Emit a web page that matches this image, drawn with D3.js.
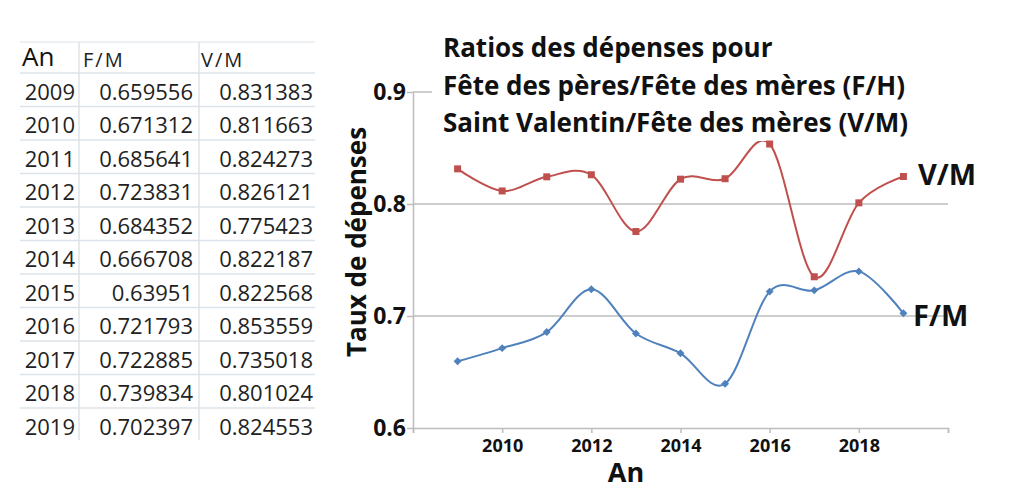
<!DOCTYPE html>
<html><head><meta charset="utf-8">
<script src="https://cdn.jsdelivr.net/npm/d3@7/dist/d3.min.js"></script>
<style>
body{margin:0;background:#fff;}
svg{display:block;}
</style></head>
<body>
<svg id="c" width="1024" height="500"></svg>
<script>
const years = [2009,2010,2011,2012,2013,2014,2015,2016,2017,2018,2019];
const fm = [0.659556,0.671312,0.685641,0.723831,0.684352,0.666708,0.63951,0.721793,0.722885,0.739834,0.702397];
const vm = [0.831383,0.811663,0.824273,0.826121,0.775423,0.822187,0.822568,0.853559,0.735018,0.801024,0.824553];
const fmText = ["0.659556","0.671312","0.685641","0.723831","0.684352","0.666708","0.63951","0.721793","0.722885","0.739834","0.702397"];
const vmText = ["0.831383","0.811663","0.824273","0.826121","0.775423","0.822187","0.822568","0.853559","0.735018","0.801024","0.824553"];
const tableHeaders = ["An","F/M","V/M"];
const yTicks = [0.6,0.7,0.8,0.9];
const xTicks = [2008,2010,2012,2014,2016,2018,2020];
const xLabels = [2010,2012,2014,2016,2018];
const titleLines = ["Ratios des dépenses pour","Fête des pères/Fête des mères (F/H)","Saint Valentin/Fête des mères (V/M)"];

const svg = d3.select("#c");
const FONT = "'Open Sans', sans-serif";

// ---------- table ----------
const tb = svg.append("g");
const rowY = d3.scaleLinear().domain([0,1]).range([73,106.5]);
const lineCol = "#dde3ea";
tb.append("line").attr("x1",20).attr("x2",315).attr("y1",42).attr("y2",42).attr("stroke",lineCol).attr("stroke-width",1.2);
d3.range(0,years.length).forEach(i=>{
  tb.append("line").attr("x1",20).attr("x2",315).attr("y1",rowY(i)).attr("y2",rowY(i)).attr("stroke",lineCol).attr("stroke-width",1.5);
});
[79,199].forEach(x=>tb.append("line").attr("x1",x).attr("x2",x).attr("y1",42).attr("y2",440).attr("stroke",lineCol).attr("stroke-width",1.5));
tb.append("text").attr("x",22).attr("y",66).attr("font-family",FONT).attr("font-size",26).attr("fill","#111").text(tableHeaders[0]);
tb.append("text").attr("x",83).attr("y",67).attr("font-family",FONT).attr("font-size",20).attr("letter-spacing",2).attr("fill","#222").text(tableHeaders[1]);
tb.append("text").attr("x",201).attr("y",67).attr("font-family",FONT).attr("font-size",20).attr("letter-spacing",2).attr("fill","#222").text(tableHeaders[2]);
years.forEach((y,i)=>{
  const cy = rowY(i+0.5)+10;
  tb.append("text").attr("x",75).attr("y",cy).attr("text-anchor","end").attr("font-family",FONT).attr("font-size",22).attr("fill","#222").text(y);
  tb.append("text").attr("x",193).attr("y",cy).attr("text-anchor","end").attr("font-family",FONT).attr("font-size",22).attr("fill","#222").text(fmText[i]);
  tb.append("text").attr("x",313).attr("y",cy).attr("text-anchor","end").attr("font-family",FONT).attr("font-size",22).attr("fill","#222").text(vmText[i]);
});

// ---------- chart ----------
const x = d3.scaleLinear().domain([2008,2020]).range([413,948]);
const y = d3.scaleLinear().domain([0.6,0.9]).range([428,92]);

const g = svg.append("g");
yTicks.filter(t=>t>0.6).forEach(t=>{
  g.append("line").attr("x1",x(2008)).attr("x2",x(2020)).attr("y1",y(t)).attr("y2",y(t)).attr("stroke","#bdbdbd").attr("stroke-width",1.5);
});
const xa = g.append("g").attr("transform",`translate(0,${y(0.6)})`)
  .call(d3.axisBottom(x).tickValues(xTicks).tickSize(5).tickFormat(d=>xLabels.includes(d)?d:""));
xa.select(".domain").attr("stroke","#bdbdbd").attr("stroke-width",1.5);
xa.selectAll(".tick line").attr("stroke","#bdbdbd").attr("stroke-width",1.5);
xa.selectAll(".tick text").attr("font-family",FONT).attr("font-weight","bold").attr("font-size",18).attr("fill","#111").attr("dy","0.9em");
const ya = g.append("g").attr("transform",`translate(${x(2008)},0)`)
  .call(d3.axisLeft(y).tickValues(yTicks).tickSize(6).tickSizeOuter(0).tickPadding(1).tickFormat(d3.format(".1f")));
ya.select(".domain").attr("stroke","#bdbdbd").attr("stroke-width",1.5);
ya.selectAll(".tick line").attr("stroke","#bdbdbd").attr("stroke-width",1.5);
ya.selectAll(".tick text").attr("font-family",FONT).attr("font-weight","bold").attr("font-size",23).attr("fill","#111");

// lines
const line = d3.line().x((d,i)=>x(years[i])).y(d=>y(d)).curve(d3.curveCardinal.tension(0));
const RED = "#c0504d", BLUE = "#4f81bd";
g.append("path").datum(vm).attr("d",line).attr("fill","none").attr("stroke",RED).attr("stroke-width",2);
g.append("path").datum(fm).attr("d",line).attr("fill","none").attr("stroke",BLUE).attr("stroke-width",2);

// title box (drawn over the plot, under the markers)
const tg = svg.append("g");
tg.append("rect").attr("x",432).attr("y",26).attr("width",530).attr("height",115).attr("fill","#fff");
titleLines.forEach((t,i)=>{
  tg.append("text").attr("x",443).attr("y",57+i*37.5).attr("font-family",FONT).attr("font-weight","bold").attr("font-size",26).attr("fill","#111").text(t);
});

const mk = svg.append("g");
mk.selectAll(".sq").data(vm).join("rect").attr("x",(d,i)=>x(years[i])-3.5).attr("y",d=>y(d)-3.5).attr("width",7).attr("height",7).attr("fill",RED);
mk.selectAll(".dm").data(fm).join("path").attr("d",d3.symbol(d3.symbolDiamond2,40)).attr("transform",(d,i)=>`translate(${x(years[i])},${y(d)})`).attr("fill",BLUE);

// series labels
svg.append("text").attr("x",918).attr("y",185).attr("font-family",FONT).attr("font-weight","bold").attr("font-size",29).attr("fill","#111").text("V/M");
svg.append("text").attr("x",913).attr("y",326).attr("font-family",FONT).attr("font-weight","bold").attr("font-size",29).attr("fill","#111").text("F/M");

// axis titles
svg.append("text").attr("transform","translate(366,242) rotate(-90)").attr("text-anchor","middle").attr("font-family",FONT).attr("font-weight","bold").attr("font-size",26).attr("fill","#111").text("Taux de dépenses");
svg.append("text").attr("x",626).attr("y",482).attr("text-anchor","middle").attr("font-family",FONT).attr("font-weight","bold").attr("font-size",27).attr("fill","#111").text("An");
</script>
</body></html>
